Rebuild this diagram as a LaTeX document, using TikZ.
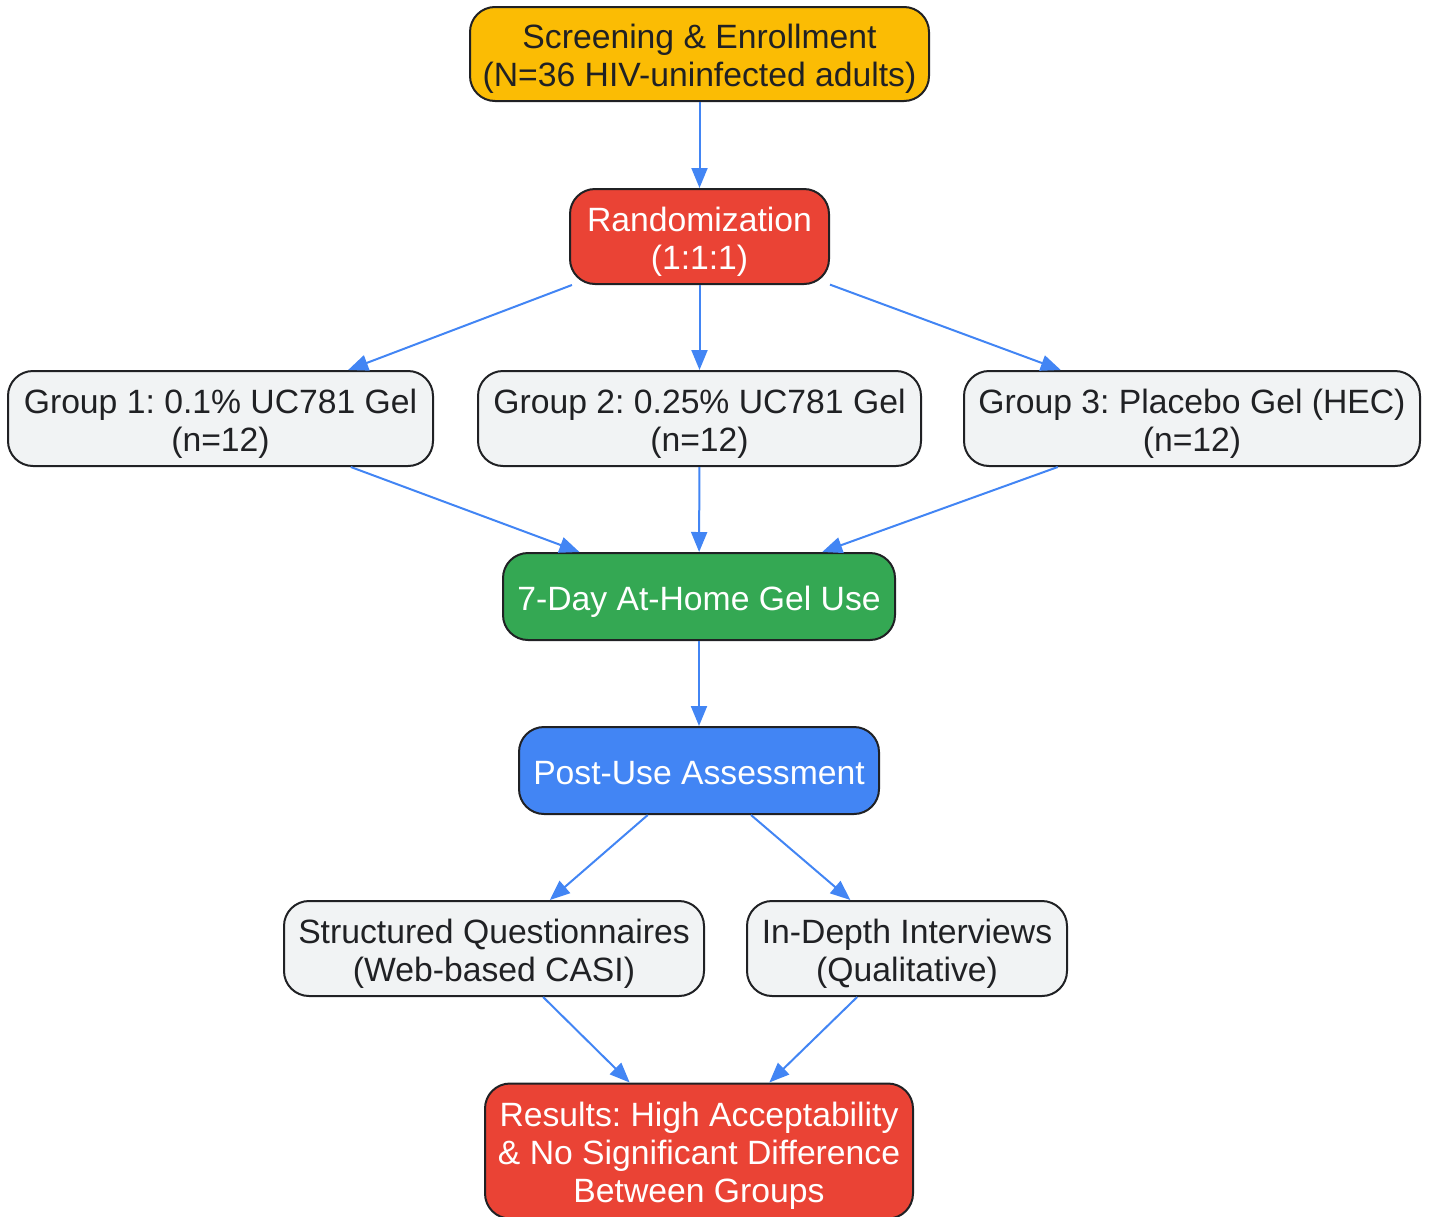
\documentclass[tikz,border=0pt]{standalone}
\usepackage{fontspec}
\setmainfont{Liberation Sans}
\usetikzlibrary{arrows.meta}
\frenchspacing
\definecolor{ylw}{HTML}{FBBC04}
\definecolor{rd}{HTML}{EA4335}
\definecolor{grn}{HTML}{34A853}
\definecolor{blu}{HTML}{4285F4}
\definecolor{gry}{HTML}{F1F3F4}
\definecolor{ink}{HTML}{202124}
\newcommand{\tpstrut}{\rule[-3.6pt]{0pt}{20.9pt}}
\tikzset{
  box/.style={draw=ink, line width=1pt, rounded corners=12.5pt, inner sep=0pt,
    align=center, text=ink, font=\fontsize{16.85pt}{19pt}\selectfont},
  light/.style={box, fill=gry},
  conn/.style={draw=blu, line width=1pt, -{Triangle[length=10pt,width=8pt]}}
}
\begin{document}
\begin{tikzpicture}[x=0.5pt,y=-0.5pt]
\useasboundingbox (0,0) rectangle (1430,1216);
\node[box, fill=ylw, minimum width=229.5pt, minimum height=47pt] (scr) at (699.5,54)
  {\tpstrut Screening \& Enrollment\\(N=36 HIV-uninfected adults)};
\node[box, fill=rd, text=white, minimum width=129.5pt, minimum height=47.5pt] (rand) at (699.5,236.5)
  {\tpstrut Randomization\\(1:1:1)};
\node[light, minimum width=212.5pt, minimum height=47.5pt] (g1) at (220.5,418.5)
  {\tpstrut Group 1: 0.1\% UC781 Gel\\(n=12)};
\node[light, minimum width=221.5pt, minimum height=47.5pt] (g2) at (699.5,418.5)
  {\tpstrut Group 2: 0.25\% UC781 Gel\\(n=12)};
\node[light, minimum width=228pt, minimum height=47.5pt] (g3) at (1192,418.5)
  {\tpstrut Group 3: Placebo Gel (HEC)\\(n=12)};
\node[box, fill=grn, text=white, minimum width=196pt, minimum height=43.5pt] (use) at (699,596.5)
  {\tpstrut 7-Day At-Home Gel Use};
\node[box, fill=blu, text=white, minimum width=180pt, minimum height=43.5pt] (post) at (699,770.5)
  {\tpstrut Post-Use Assessment};
\node[light, minimum width=210pt, minimum height=47.5pt] (sq) at (494,948.5)
  {\tpstrut Structured Questionnaires\\(Web-based CASI)};
\node[light, minimum width=160pt, minimum height=47.5pt] (idi) at (907,948.5)
  {\tpstrut In-Depth Interviews\\(Qualitative)};
\node[box, fill=rd, text=white, minimum width=214pt, minimum height=67.5pt] (res) at (699,1151)
  {\tpstrut Results: High Acceptability\\\& No Significant Difference\\Between Groups};
\draw[conn] (scr) -- (rand);
\draw[conn] (rand) -- (g1);
\draw[conn] (rand) -- (g2);
\draw[conn] (rand) -- (g3);
\draw[conn] (g1) -- (use);
\draw[conn] (g2) -- (use);
\draw[conn] (g3) -- (use);
\draw[conn] (use) -- (post);
\draw[conn] (post) -- (sq);
\draw[conn] (post) -- (idi);
\draw[conn] (sq) -- (res);
\draw[conn] (idi) -- (res);
\end{tikzpicture}
\end{document}
